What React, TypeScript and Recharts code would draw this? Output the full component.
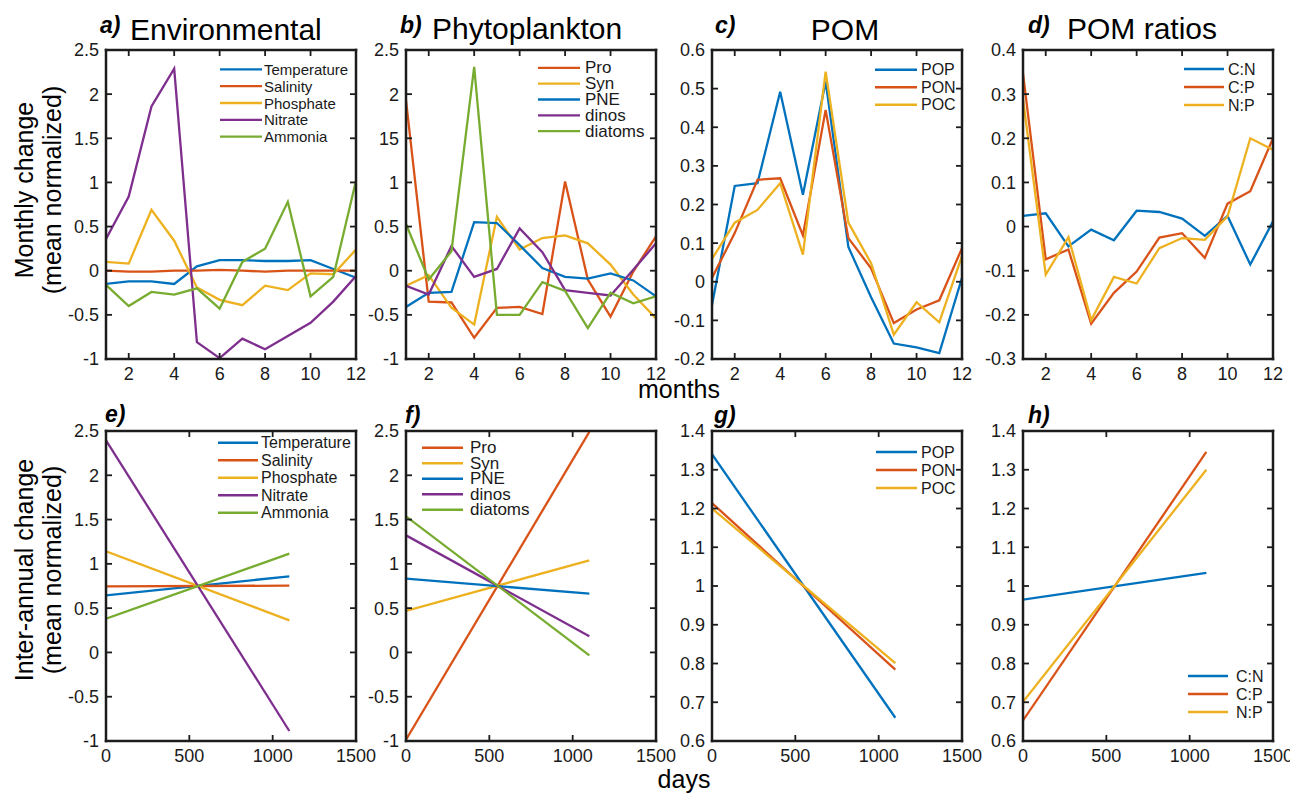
import React from 'react';
import { LineChart, Line, XAxis, YAxis, Legend } from 'recharts';

const FONT = '"Liberation Sans", Arial, Helvetica, sans-serif';
const BLUE = '#0072BD';
const RED = '#D95319';
const YELLOW = '#EDB120';
const PURPLE = '#7E2F8E';
const GREEN = '#77AC30';
const FRAME = '#1c1c1c';

// ---- categories / ticks ----
const months = [1, 2, 3, 4, 5, 6, 7, 8, 9, 10, 11, 12];
const monthTicks = [2, 4, 6, 8, 10, 12];
const days = [0, 1100];
const dayTicks = [0, 500, 1000, 1500];
const normTicks = [-1, -0.5, 0, 0.5, 1, 1.5, 2, 2.5];
const pomTicks = [-0.2, -0.1, 0, 0.1, 0.2, 0.3, 0.4, 0.5, 0.6];
const ratioTicks = [-0.3, -0.2, -0.1, 0, 0.1, 0.2, 0.3, 0.4];
const annualPomTicks = [0.6, 0.7, 0.8, 0.9, 1, 1.1, 1.2, 1.3, 1.4];

// ---- a) Environmental, monthly ----
const envTemperature = [-0.15, -0.12, -0.12, -0.15, 0.05, 0.12, 0.12, 0.11, 0.11, 0.12, 0.02, -0.08];
const envSalinity = [0, -0.01, -0.01, 0, 0, 0.01, 0, -0.01, 0, 0, 0, 0];
const envPhosphate = [0.1, 0.08, 0.69, 0.34, -0.19, -0.33, -0.39, -0.17, -0.22, -0.03, -0.04, 0.24];
const envNitrate = [0.36, 0.84, 1.86, 2.29, -0.81, -0.99, -0.77, -0.89, -0.74, -0.59, -0.35, -0.06];
const envAmmonia = [-0.16, -0.4, -0.24, -0.27, -0.2, -0.43, 0.1, 0.25, 0.78, -0.29, -0.07, 1.02];

// ---- b) Phytoplankton, monthly ----
const phyPro = [1.93, -0.35, -0.36, -0.76, -0.42, -0.41, -0.49, 1.01, -0.1, -0.52, -0.01, 0.39];
const phySyn = [-0.17, -0.05, -0.42, -0.61, 0.61, 0.24, 0.37, 0.4, 0.31, 0.07, -0.27, -0.54];
const phyPNE = [-0.41, -0.25, -0.24, 0.55, 0.54, 0.29, 0.03, -0.07, -0.09, -0.03, -0.11, -0.29];
const phyDinos = [-0.17, -0.27, 0.28, -0.07, 0.02, 0.48, 0.21, -0.22, -0.25, -0.28, 0.01, 0.31];
const phyDiatoms = [0.53, -0.1, 0.22, 2.31, -0.5, -0.5, -0.13, -0.23, -0.65, -0.25, -0.37, -0.29];

// ---- c) POM, monthly ----
const pomPOP = [-0.06, 0.248, 0.255, 0.492, 0.225, 0.518, 0.09, -0.04, -0.16, -0.17, -0.185, 0.01];
const pomPON = [0.01, 0.126, 0.264, 0.268, 0.12, 0.445, 0.113, 0.035, -0.107, -0.072, -0.048, 0.087];
const pomPOC = [0.059, 0.153, 0.186, 0.255, 0.07, 0.544, 0.153, 0.048, -0.137, -0.053, -0.105, 0.067];

// ---- d) POM ratios, monthly ----
const ratCN = [0.024, 0.03, -0.045, -0.007, -0.031, 0.036, 0.033, 0.018, -0.021, 0.024, -0.086, 0.012];
const ratCP = [0.347, -0.074, -0.052, -0.22, -0.15, -0.102, -0.025, -0.015, -0.071, 0.052, 0.08, 0.2];
const ratNP = [0.289, -0.109, -0.024, -0.212, -0.114, -0.129, -0.049, -0.026, -0.03, 0.023, 0.2, 0.174];

// ---- e) Environmental, inter-annual ----
const annTemperature = [0.645, 0.859];
const annSalinity = [0.746, 0.754];
const annPhosphate = [1.141, 0.362];
const annNitrate = [2.395, -0.887];
const annAmmonia = [0.381, 1.115];

// ---- f) Phytoplankton, inter-annual ----
const annPro = [-0.985, 2.49];
const annSyn = [0.468, 1.04];
const annPNE = [0.833, 0.663];
const annDinos = [1.322, 0.182];
const annDiatoms = [1.537, -0.033];

// ---- g) POM, inter-annual ----
const annPOP = [1.34, 0.66];
const annPON = [1.214, 0.784];
const annPOC = [1.2, 0.801];

// ---- h) POM ratios, inter-annual ----
const annCN = [0.965, 1.034];
const annCP = [0.653, 1.346];
const annNP = [0.701, 1.3];

type Series = { name: string; color: string; values: number[] };
type LegendCfg = { x: number; y: number; dy: number; fs: number; lineLen: number; gap: number };

function buildRows(xKey: string, xs: number[], series: Series[]) {
  return xs.map((x, i) => {
    const row: Record<string, number> = { [xKey]: x };
    series.forEach((s) => {
      row[s.name] = s.values[i];
    });
    return row;
  });
}

const fmt = (v: number) => String(parseFloat(Number(v).toFixed(2)));

function LegendBox({ series, cfg }: { series: Series[]; cfg: LegendCfg }) {
  const h = series.length * cfg.dy;
  return (
    <svg width={170} height={h} style={{ display: 'block', overflow: 'visible' }}>
      {series.map((s, i) => {
        const y = i * cfg.dy + cfg.dy / 2;
        return (
          <g key={s.name}>
            <line x1={0} x2={cfg.lineLen} y1={y} y2={y} stroke={s.color} strokeWidth={2.3} />
            <text
              x={cfg.lineLen + cfg.gap}
              y={y}
              dominantBaseline="central"
              fontSize={cfg.fs}
              fontFamily={FONT}
              fill="#1a1a1a"
            >
              {s.name}
            </text>
          </g>
        );
      })}
    </svg>
  );
}

type PanelDef = {
  left: number;
  top: number;
  width: number;
  height: number;
  xKey: string;
  xs: number[];
  xDomain: [number, number];
  xTicks: number[];
  yDomain: [number, number];
  yTicks: number[];
  series: Series[];
  legend: LegendCfg;
  yFmt?: (v: number) => string;
};

const TICK_PX = 6;
const LM = 60;
const TM = 10;
const RM = 40;
const BM = 34;

function Panel(p: PanelDef) {
  const W = LM + p.width + RM;
  const H = TM + p.height + BM;
  const cl = p.left - LM;
  const ct = p.top - TM;
  const data = buildRows(p.xKey, p.xs, p.series);
  const tickStyle = { fontSize: 18, fontFamily: FONT, fill: '#1a1a1a' };
  return (
    <div style={{ position: 'absolute', left: cl, top: ct, width: W, height: H }}>
      <LineChart width={W} height={H} data={data} margin={{ top: TM, right: RM, bottom: 0, left: 0 }}>
        <XAxis
          dataKey={p.xKey}
          type="number"
          domain={p.xDomain}
          ticks={p.xTicks}
          allowDataOverflow
          height={BM}
          axisLine={false}
          tickLine={false}
          tickSize={0}
          tickMargin={8}
          tick={tickStyle}
          interval={0}
        />
        <YAxis
          type="number"
          domain={p.yDomain}
          ticks={p.yTicks}
          allowDataOverflow
          width={LM}
          axisLine={false}
          tickLine={false}
          tickSize={0}
          tickMargin={7}
          tick={tickStyle}
          tickFormatter={p.yFmt || fmt}
          interval={0}
        />
        {p.series.map((s) => (
          <Line
            key={s.name}
            type="linear"
            dataKey={s.name}
            stroke={s.color}
            strokeWidth={2.3}
            dot={false}
            activeDot={false}
            isAnimationActive={false}
          />
        ))}
        <Legend
          layout="vertical"
          align="center"
          verticalAlign="middle"
          wrapperStyle={{
            left: p.legend.x - cl,
            top: p.legend.y - p.legend.dy / 2 - ct,
            width: 170,
            height: p.series.length * p.legend.dy,
            right: 'auto',
            bottom: 'auto',
          }}
          content={() => <LegendBox series={p.series} cfg={p.legend} />}
        />
      </LineChart>
    </div>
  );
}

// Box outline with inward ticks on all four sides, drawn in page coordinates.
function FrameMarks({ p }: { p: PanelDef }) {
  const { left: x, top: y, width: w, height: h, xDomain, yDomain } = p;
  const sx = (v: number) => x + ((v - xDomain[0]) / (xDomain[1] - xDomain[0])) * w;
  const sy = (v: number) => y + h - ((v - yDomain[0]) / (yDomain[1] - yDomain[0])) * h;
  return (
    <g>
      {p.yTicks.map((t) => (
        <g key={'y' + t}>
          <rect x={x} y={sy(t) - 0.9} width={TICK_PX} height={1.8} fill={FRAME} />
          <rect x={x + w - TICK_PX} y={sy(t) - 0.9} width={TICK_PX} height={1.8} fill={FRAME} />
        </g>
      ))}
      {p.xTicks.map((t) => (
        <g key={'x' + t}>
          <rect x={sx(t) - 0.9} y={y + h - TICK_PX} width={1.8} height={TICK_PX} fill={FRAME} />
          <rect x={sx(t) - 0.9} y={y} width={1.8} height={TICK_PX} fill={FRAME} />
        </g>
      ))}
      <rect x={x - 1.25} y={y - 1.25} width={w + 2.5} height={2.5} fill={FRAME} />
      <rect x={x - 1.25} y={y + h - 1.25} width={w + 2.5} height={2.5} fill={FRAME} />
      <rect x={x - 1.25} y={y - 1.25} width={2.5} height={h + 2.5} fill={FRAME} />
      <rect x={x + w - 1.25} y={y - 1.25} width={2.5} height={h + 2.5} fill={FRAME} />
    </g>
  );
}

const envMonthly: Series[] = [
  { name: 'Temperature', color: BLUE, values: envTemperature },
  { name: 'Salinity', color: RED, values: envSalinity },
  { name: 'Phosphate', color: YELLOW, values: envPhosphate },
  { name: 'Nitrate', color: PURPLE, values: envNitrate },
  { name: 'Ammonia', color: GREEN, values: envAmmonia },
];
const phyMonthly: Series[] = [
  { name: 'Pro', color: RED, values: phyPro },
  { name: 'Syn', color: YELLOW, values: phySyn },
  { name: 'PNE', color: BLUE, values: phyPNE },
  { name: 'dinos', color: PURPLE, values: phyDinos },
  { name: 'diatoms', color: GREEN, values: phyDiatoms },
];
const pomMonthly: Series[] = [
  { name: 'POP', color: BLUE, values: pomPOP },
  { name: 'PON', color: RED, values: pomPON },
  { name: 'POC', color: YELLOW, values: pomPOC },
];
const ratMonthly: Series[] = [
  { name: 'C:N', color: BLUE, values: ratCN },
  { name: 'C:P', color: RED, values: ratCP },
  { name: 'N:P', color: YELLOW, values: ratNP },
];
const envAnnual: Series[] = [
  { name: 'Temperature', color: BLUE, values: annTemperature },
  { name: 'Salinity', color: RED, values: annSalinity },
  { name: 'Phosphate', color: YELLOW, values: annPhosphate },
  { name: 'Nitrate', color: PURPLE, values: annNitrate },
  { name: 'Ammonia', color: GREEN, values: annAmmonia },
];
const phyAnnual: Series[] = [
  { name: 'Pro', color: RED, values: annPro },
  { name: 'Syn', color: YELLOW, values: annSyn },
  { name: 'PNE', color: BLUE, values: annPNE },
  { name: 'dinos', color: PURPLE, values: annDinos },
  { name: 'diatoms', color: GREEN, values: annDiatoms },
];
const pomAnnual: Series[] = [
  { name: 'POP', color: BLUE, values: annPOP },
  { name: 'PON', color: RED, values: annPON },
  { name: 'POC', color: YELLOW, values: annPOC },
];
const ratAnnual: Series[] = [
  { name: 'C:N', color: BLUE, values: annCN },
  { name: 'C:P', color: RED, values: annCP },
  { name: 'N:P', color: YELLOW, values: annNP },
];

const phyFmt = (v: number) => {
  const s = fmt(v);
  return s === '1.5' ? '15' : s;
};

const TOP = 50;
const TOP_H = 309;
const BOT = 431;
const BOT_H = 310;
const PW = 250;
const COLS = [106, 406, 712, 1023];

const panels: PanelDef[] = [
  { left: COLS[0], top: TOP, width: PW, height: TOP_H, xKey: 'month', xs: months, xDomain: [1, 12], xTicks: monthTicks,
    yDomain: [-1, 2.5], yTicks: normTicks, series: envMonthly,
    legend: { x: 220, y: 69, dy: 16.8, fs: 15, lineLen: 42, gap: 2 } },
  { left: COLS[1], top: TOP, width: PW, height: TOP_H, xKey: 'month', xs: months, xDomain: [1, 12], xTicks: monthTicks,
    yDomain: [-1, 2.5], yTicks: normTicks, series: phyMonthly, yFmt: phyFmt,
    legend: { x: 538, y: 68, dy: 15.8, fs: 17, lineLen: 42, gap: 5 } },
  { left: COLS[2], top: TOP, width: PW, height: TOP_H, xKey: 'month', xs: months, xDomain: [1, 12], xTicks: monthTicks,
    yDomain: [-0.2, 0.6], yTicks: pomTicks, series: pomMonthly,
    legend: { x: 875, y: 70, dy: 17.5, fs: 16, lineLen: 42, gap: 4 } },
  { left: COLS[3], top: TOP, width: PW, height: TOP_H, xKey: 'month', xs: months, xDomain: [1, 12], xTicks: monthTicks,
    yDomain: [-0.3, 0.4], yTicks: ratioTicks, series: ratMonthly,
    legend: { x: 1184, y: 69, dy: 18, fs: 16, lineLen: 40, gap: 4 } },
  { left: COLS[0], top: BOT, width: PW, height: BOT_H, xKey: 'day', xs: days, xDomain: [0, 1500], xTicks: dayTicks,
    yDomain: [-1, 2.5], yTicks: normTicks, series: envAnnual,
    legend: { x: 218, y: 443, dy: 17.5, fs: 16, lineLen: 40, gap: 3 } },
  { left: COLS[1], top: BOT, width: PW, height: BOT_H, xKey: 'day', xs: days, xDomain: [0, 1500], xTicks: dayTicks,
    yDomain: [-1, 2.5], yTicks: normTicks, series: phyAnnual,
    legend: { x: 422, y: 448, dy: 15.5, fs: 17, lineLen: 41, gap: 7 } },
  { left: COLS[2], top: BOT, width: PW, height: BOT_H, xKey: 'day', xs: days, xDomain: [0, 1500], xTicks: dayTicks,
    yDomain: [0.6, 1.4], yTicks: annualPomTicks, series: pomAnnual,
    legend: { x: 876, y: 452, dy: 18, fs: 16, lineLen: 41, gap: 4 } },
  { left: COLS[3], top: BOT, width: PW, height: BOT_H, xKey: 'day', xs: days, xDomain: [0, 1500], xTicks: dayTicks,
    yDomain: [0.6, 1.4], yTicks: annualPomTicks, series: ratAnnual,
    legend: { x: 1188, y: 676, dy: 18, fs: 16, lineLen: 40, gap: 8 } },
];

export default function App() {
  const letter = { fontSize: 23, fontWeight: 700, fontStyle: 'italic' as const, fontFamily: FONT, fill: '#000' };
  const title = { fontSize: 30, fontFamily: FONT, fill: '#000' };
  const label = { fontSize: 25, fontFamily: FONT, fill: '#000' };
  return (
    <div style={{ position: 'absolute', left: 0, top: 0, width: 1290, height: 795, background: '#fff', overflow: 'hidden' }}>
      {panels.map((p, i) => (
        <Panel key={i} {...p} />
      ))}
      <svg width={1290} height={795} style={{ position: 'absolute', left: 0, top: 0, pointerEvents: 'none', zIndex: 10 }}>
        {panels.map((p, i) => (
          <FrameMarks key={'f' + i} p={p} />
        ))}
        <text x={100} y={33} {...letter}>a)</text>
        <text x={130} y={40} {...title}>Environmental</text>
        <text x={400} y={33} {...letter}>b)</text>
        <text x={432} y={39} {...title}>Phytoplankton</text>
        <text x={715} y={33} {...letter}>c)</text>
        <text x={845} y={40} textAnchor="middle" {...title}>POM</text>
        <text x={1028} y={33} {...letter}>d)</text>
        <text x={1067} y={39} {...title}>POM ratios</text>

        <text x={105} y={422} {...letter}>e)</text>
        <text x={405} y={423} {...letter}>f)</text>
        <text x={714} y={423} {...letter}>g)</text>
        <text x={1028} y={423} {...letter}>h)</text>

        <text x={679} y={398} textAnchor="middle" {...label}>months</text>
        <text x={684} y={788} textAnchor="middle" {...label}>days</text>

        <text transform="translate(33,190) rotate(-90)" textAnchor="middle" {...label}>Monthly change</text>
        <text transform="translate(61,190) rotate(-90)" textAnchor="middle" {...label}>(mean normalized)</text>
        <text transform="translate(33,570) rotate(-90)" textAnchor="middle" {...label}>Inter-annual change</text>
        <text transform="translate(61,570) rotate(-90)" textAnchor="middle" {...label}>(mean normalized)</text>
      </svg>
    </div>
  );
}
